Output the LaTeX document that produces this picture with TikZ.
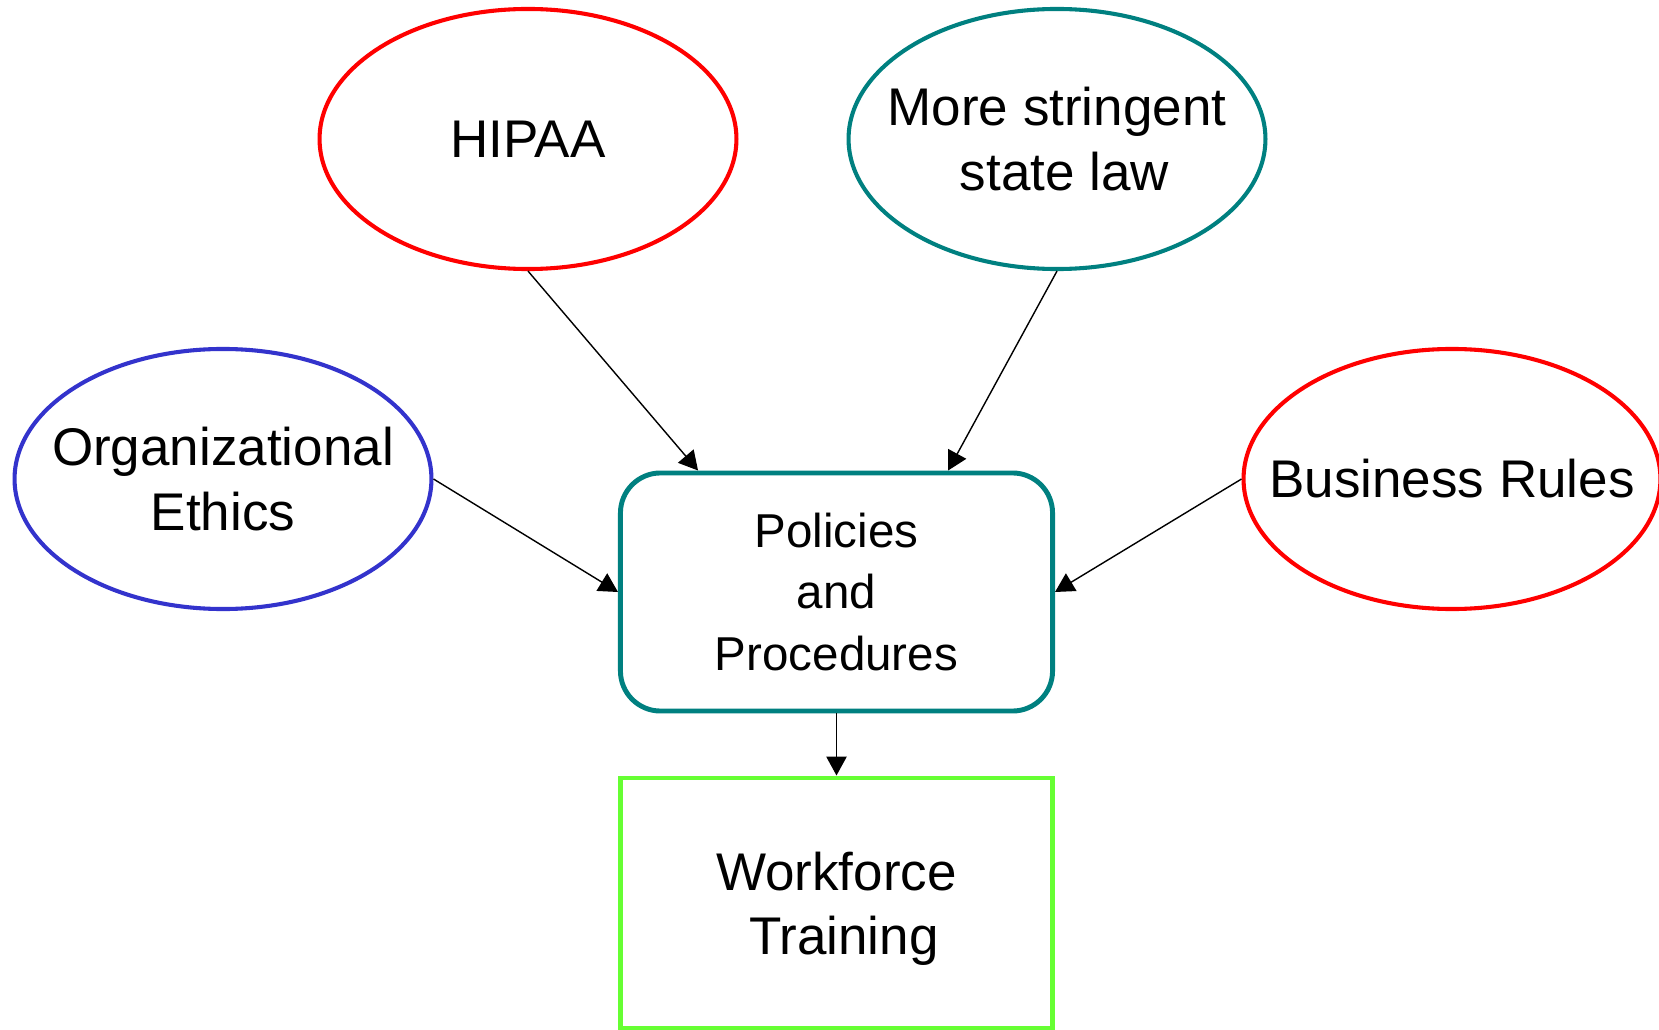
\documentclass[tikz,border=0pt]{standalone}
\usepackage{fontspec}
\setmainfont{Liberation Sans}
\usepackage{xcolor}
\usepackage{tikz}
\usetikzlibrary{positioning,shapes.geometric,arrows.meta}
\definecolor{lawred}{RGB}{255,0,0}
\definecolor{ruleteal}{RGB}{0,128,128}
\definecolor{ethicsblue}{RGB}{51,51,204}
\definecolor{traingreen}{RGB}{102,255,51}

\tikzset{
  bigtext/.style={font=\fontsize{37.7}{45.9}\selectfont, align=center},
  source/.style={draw, ellipse, line width=2.9pt, minimum width=10.42cm, minimum height=6.5cm, inner sep=0pt},
  link/.style={-{Triangle[length=13.5pt,width=14.5pt]}, line width=1pt},
}

\begin{document}
\begin{tikzpicture}[x=0.025cm,y=-0.025cm]
\useasboundingbox (0,0) rectangle (1659,1030);

% sources
\node[source, draw=lawred, label={[bigtext]center:HIPAA}] (hipaa) at (528,139) {};
\node[source, draw=ruleteal, label={[bigtext]center:More stringent\\\ state law}] (state) at (1057,139) {};
\node[source, draw=ethicsblue, label={[bigtext]center:Organizational\\Ethics}] (ethics) at (223,479) {};
\node[source, draw=lawred, label={[bigtext]center:Business Rules}] (rules) at (1452,479) {};

% policies and training
\node[draw=ruleteal, line width=3.5pt, rounded corners=1cm, minimum width=10.8cm, minimum height=5.95cm,
      align=center, font=\fontsize{33.8}{43.4}\selectfont] (policy) at (836.5,592) {Policies\\and\\Procedures};
\node[draw=traingreen, line width=3.5pt, minimum width=10.8cm, minimum height=6.27cm, bigtext, text depth=0pt,
      below=1.55cm of policy] (training) {Workforce\\\ Training};

\draw[link] (hipaa.south) -- ([xshift=-3.46cm]policy.north);
\draw[link] (state.south) -- ([xshift=2.79cm]policy.north);
\draw[link] (ethics.east) -- (policy.west);
\draw[link] (rules.west) -- (policy.east);
\draw[link] (policy.south) -- (training.north);
\end{tikzpicture}
\end{document}
